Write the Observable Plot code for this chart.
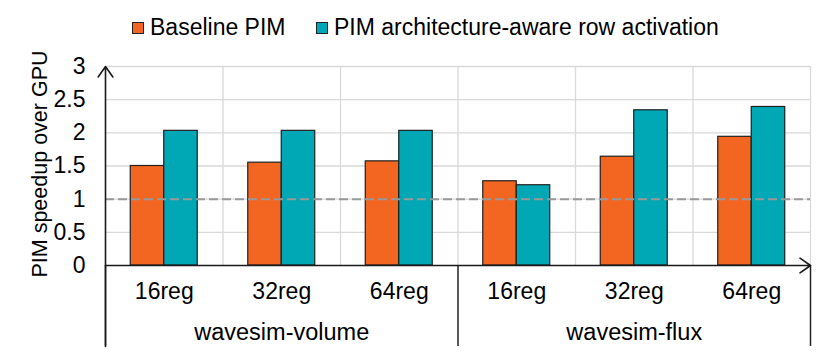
<!DOCTYPE html>
<html>
<head>
<meta charset="utf-8">
<script src="https://cdn.jsdelivr.net/npm/d3@7"></script>
<script src="https://cdn.jsdelivr.net/npm/@observablehq/plot@0.6"></script>
<style>
  html, body { margin: 0; padding: 0; background: #fff; }
  body { width: 830px; font-family: "Liberation Sans", Arial, sans-serif; }
  #legend { height: 45px; position: relative; font-size: 23px; color: #000; }
  .item { position: absolute; top: 14px; display: flex; align-items: center; white-space: nowrap; }
  .sw { width: 10px; height: 10px; border: 1px solid #222; margin-right: 6px; }
</style>
</head>
<body>
<div id="legend"></div>
<div id="chart"></div>
<script>
// ---- data ----
const groups = ["wavesim-volume", "wavesim-flux"];
const configs = ["16reg", "32reg", "64reg"];
const seriesNames = ["Baseline PIM", "PIM architecture-aware row activation"];
const seriesColors = ["#F26622", "#00A8B5"];
const baselinePIM = [1.50, 1.55, 1.57, 1.27, 1.64, 1.94];
const awarePIM    = [2.03, 2.03, 2.03, 1.21, 2.34, 2.39];
const yTicks = [0, 0.5, 1, 1.5, 2, 2.5, 3];
const yLabel = "PIM speedup over GPU";

// ---- derived table ----
const combos = [];
groups.forEach((g, gi) => configs.forEach((c, ci) => combos.push({group: g, config: c, index: gi * configs.length + ci})));
const nCombos = combos.length;
const barFrac = 0.285; // bar width as fraction of a category slot
const rows = [];
combos.forEach(cb => {
  [baselinePIM, awarePIM].forEach((vals, s) => {
    rows.push({
      ...cb, series: seriesNames[s], value: vals[cb.index],
      x1: cb.index + 0.5 + (s - 1) * barFrac,
      x2: cb.index + 0.5 + s * barFrac
    });
  });
});
const yMax = yTicks[yTicks.length - 1];
const yBelow = -1.22; // extent of the separators below the axis (in y units)
const groupEdges = d3.range(0, nCombos + 1, configs.length);
const slotEdges = d3.range(1, nCombos + 1);

// ---- legend ----
const legend = document.getElementById("legend");
const legendLeft = [132, 316];
seriesNames.forEach((name, i) => {
  const it = document.createElement("div");
  it.className = "item";
  it.style.left = legendLeft[i] + "px";
  it.innerHTML = `<span class="sw" style="background:${seriesColors[i]}"></span><span>${name}</span>`;
  legend.appendChild(it);
});

// ---- chart ----
const chart = Plot.plot({
  width: 830,
  height: 311,
  marginTop: 21,
  marginBottom: 91,
  marginLeft: 105,
  marginRight: 20,
  style: {fontSize: "23px", fontFamily: "Liberation Sans, Arial, sans-serif", color: "#000", background: "#fff"},
  x: {
    type: "linear",
    domain: [0, nCombos],
    ticks: combos.map(c => c.index + 0.5),
    tickFormat: d => combos[Math.floor(d)].config,
    tickSize: 0,
    tickPadding: 17,
    label: null
  },
  y: {
    domain: [0, yMax],
    ticks: yTicks,
    tickFormat: d => String(d),
    tickSize: 0,
    tickPadding: 20,
    label: null
  },
  color: {domain: seriesNames, range: seriesColors},
  marks: [
    Plot.ruleY(yTicks.filter(d => d > 0), {stroke: "#d9d9d9", strokeWidth: 1.3}),
    Plot.ruleX(slotEdges, {y1: 0, y2: yMax, stroke: "#d9d9d9", strokeWidth: 1.3}),
    Plot.rectY(rows, {x1: "x1", x2: "x2", y1: 0, y2: "value", fill: "series", stroke: "#1f1f1f", strokeWidth: 1.2}),
    Plot.ruleY([1], {stroke: "#999999", strokeWidth: 2, strokeDasharray: "9,4"}),
    Plot.ruleX(groupEdges, {y1: 0, y2: yBelow, stroke: "#222", strokeWidth: 1.5}),
    Plot.arrow([{x1: 0, y1: 0, x2: nCombos, y2: 0}], {x1: "x1", y1: "y1", x2: "x2", y2: "y2", stroke: "#1a1a1a", strokeWidth: 1.6, headLength: 12, headAngle: 70}),
    Plot.arrow([{x1: 0, y1: yBelow, x2: 0, y2: yMax}], {x1: "x1", y1: "y1", x2: "x2", y2: "y2", stroke: "#1a1a1a", strokeWidth: 1.6, headLength: 12, headAngle: 70}),
    Plot.text(groups, {x: (d, i) => i * configs.length + configs.length / 2, y: 0, text: d => d, dy: 67, lineAnchor: "middle", fill: "#000", fontSize: 23.5}),
    Plot.text([yLabel], {frameAnchor: "left", rotate: -90, dx: -65, dy: -2, text: d => d, textAnchor: "middle", lineAnchor: "middle", fill: "#000", fontSize: 21.5})
  ]
});
document.getElementById("chart").appendChild(chart);
</script>
</body>
</html>
